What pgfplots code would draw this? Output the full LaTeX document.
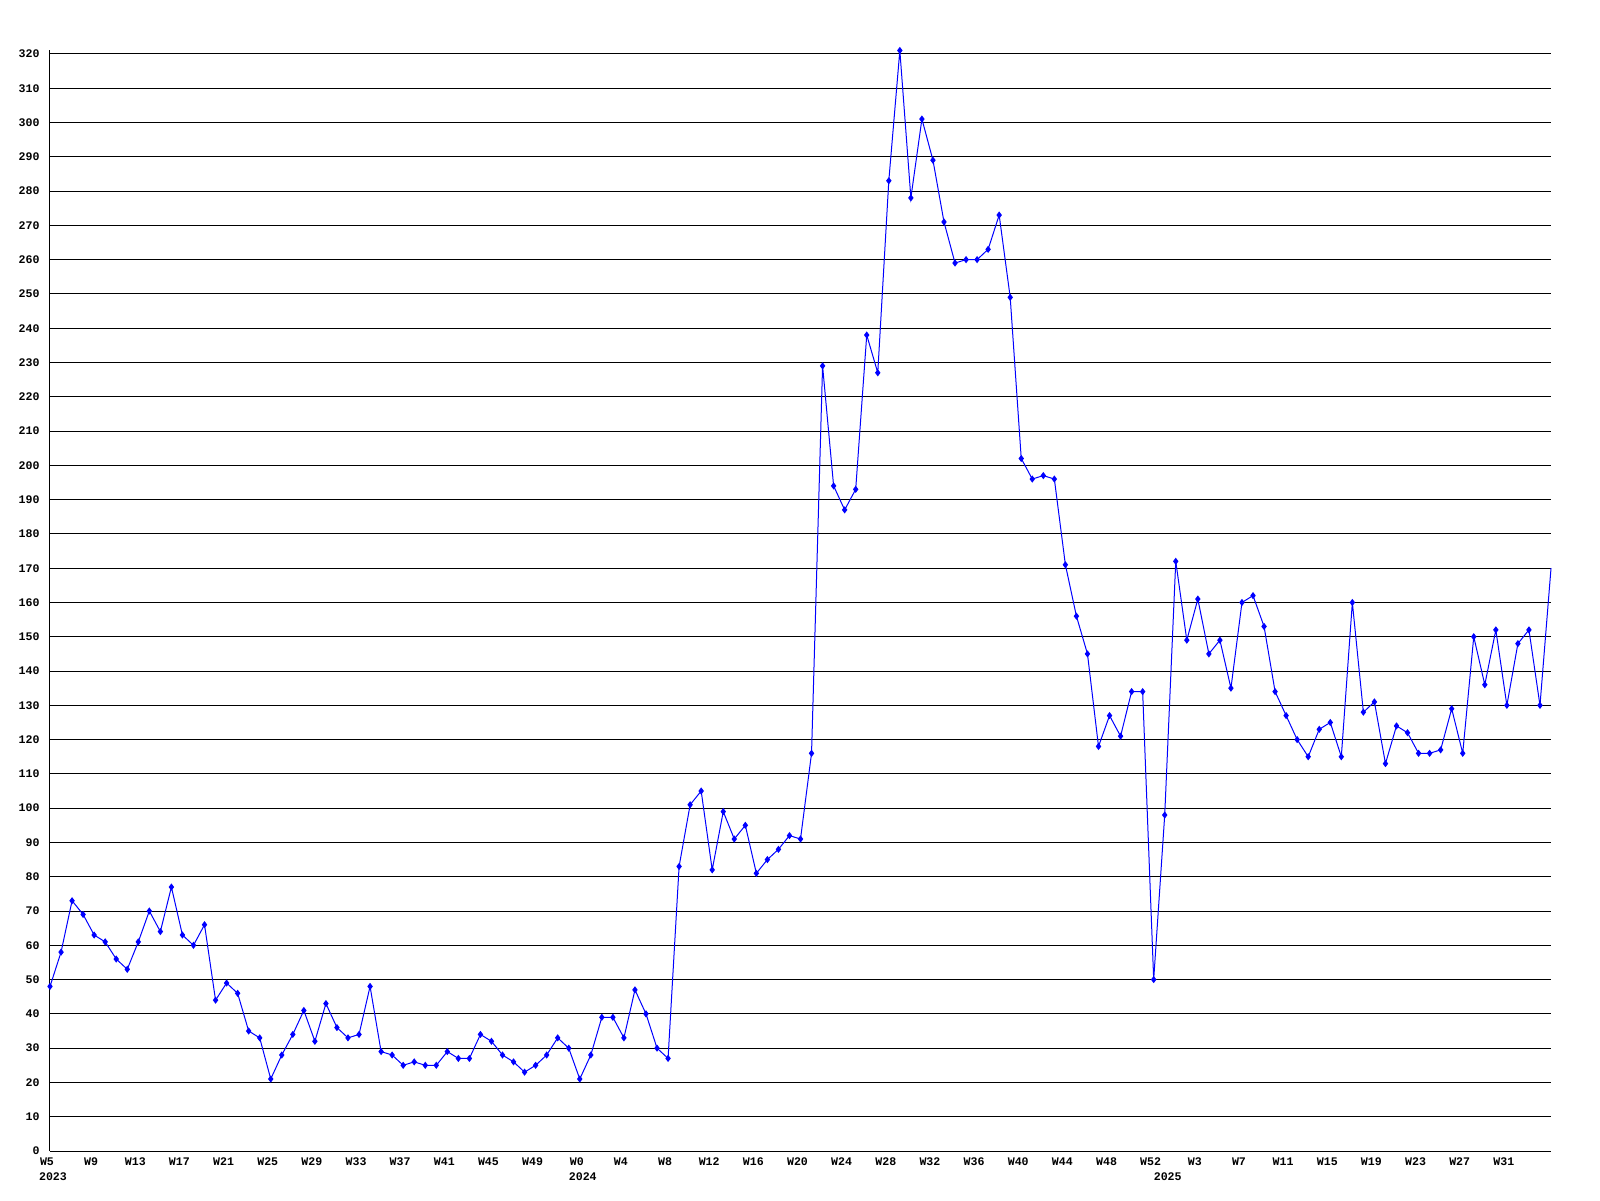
\documentclass[border=0pt]{standalone}
\usepackage{fontspec}
\setmainfont{Liberation Mono}
\usepackage{pgfplots}
\pgfplotsset{compat=1.18}

% weekly counts, index 0 = 2023 W5
\pgfplotstableread{
x y
0 48
1 58
2 73
3 69
4 63
5 61
6 56
7 53
8 61
9 70
10 64
11 77
12 63
13 60
14 66
15 44
16 49
17 46
18 35
19 33
20 21
21 28
22 34
23 41
24 32
25 43
26 36
27 33
28 34
29 48
30 29
31 28
32 25
33 26
34 25
35 25
36 29
37 27
38 27
39 34
40 32
41 28
42 26
43 23
44 25
45 28
46 33
47 30
48 21
49 28
50 39
51 39
52 33
53 47
54 40
55 30
56 27
57 83
58 101
59 105
60 82
61 99
62 91
63 95
64 81
65 85
66 88
67 92
68 91
69 116
70 229
71 194
72 187
73 193
74 238
75 227
76 283
77 321
78 278
79 301
80 289
81 271
82 259
83 260
84 260
85 263
86 273
87 249
88 202
89 196
90 197
91 196
92 171
93 156
94 145
95 118
96 127
97 121
98 134
99 134
100 50
101 98
102 172
103 149
104 161
105 145
106 149
107 135
108 160
109 162
110 153
111 134
112 127
113 120
114 115
115 123
116 125
117 115
118 160
119 128
120 131
121 113
122 124
123 122
124 116
125 116
126 117
127 129
128 116
129 150
130 136
131 152
132 130
133 148
134 152
135 130
}\weekly

\begin{document}
\begin{tikzpicture}
\path[use as bounding box] (0,0) rectangle (800pt,600pt);
\begin{axis}[
    at={(25pt,24.5pt)}, anchor=south west,
    scale only axis,
    width=750.5pt, height=550.25pt,
    xmin=0, xmax=136, ymin=0, ymax=321,
    clip=false,
    axis x line*=bottom, axis y line*=left,
    axis line style={black, line width=0.5pt, -},
    major tick length=0pt,
    ymajorgrids, grid style={black, line width=0.5pt},
    ytick={0,10,...,320},
    xtick={0,4,...,132},
    xticklabels={W5,W9,W13,W17,W21,W25,W29,W33,W37,W41,W45,W49,
        W0,W4,W8,W12,W16,W20,W24,W28,W32,W36,W40,W44,W48,W52,
        W3,W7,W11,W15,W19,W23,W27,W31},
    extra x ticks={0,48,101},
    extra x tick labels={2023,2024,2025},
    extra x tick style={grid=none, xticklabel style={xshift=3pt, yshift=-7.5pt}},
    /pgf/number format/assume math mode=true,
    ticklabel style={font=\bfseries\fontsize{5.8}{6}\selectfont},
    yticklabel style={anchor=east, inner sep=0pt, xshift=-5pt},
    xticklabel style={anchor=center, inner sep=0pt, xshift=-1.5pt, yshift=-5.5pt},
]
\addplot[color=blue, line width=0.5pt, mark=diamond*, mark size=1.4pt] table {\weekly};
\addplot[color=blue, line width=0.5pt, mark=none] coordinates {(135,130) (136,170)};
\end{axis}
\end{tikzpicture}
\end{document}
